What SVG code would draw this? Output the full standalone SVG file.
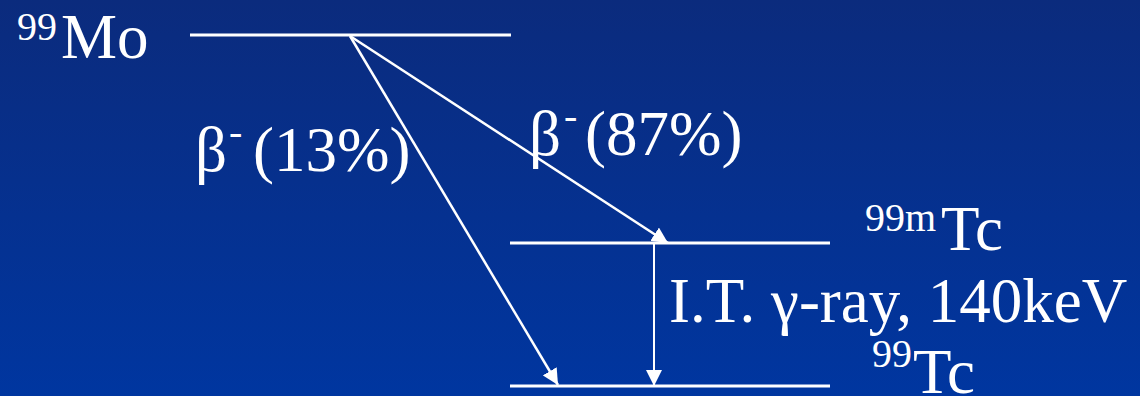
<svg xmlns="http://www.w3.org/2000/svg" width="1140" height="396" viewBox="0 0 1140 396">
<defs>
<linearGradient id="bg" x1="0" y1="0" x2="0" y2="1">
<stop offset="0" stop-color="#0b2b7d"/>
<stop offset="1" stop-color="#0036a0"/>
</linearGradient>
<marker id="ah" markerUnits="userSpaceOnUse" markerWidth="18" markerHeight="16" refX="16" refY="8" orient="auto">
<path d="M0,0 L16,8 L0,16 Z" fill="#fff"/>
</marker>
<style>
.t{font-family:"Liberation Serif","Times New Roman",serif;fill:#fff;font-size:63px}
.s{font-size:40px}
.lvl{stroke:#fff;stroke-width:3;fill:none}
.arr{stroke:#fff;stroke-width:2.5;fill:none;marker-end:url(#ah)}
</style>
</defs>
<rect width="1140" height="396" fill="url(#bg)"/>
<g id="mo99">
<line class="lvl" x1="190" y1="35" x2="511" y2="35"/>
<text class="t"><tspan class="s" x="17" y="40">99</tspan><tspan x="61" y="58">Mo</tspan></text>
</g>
<g id="tc99m">
<line class="lvl" x1="510" y1="243" x2="830" y2="243"/>
<text class="t"><tspan class="s" x="865" y="231">99m</tspan><tspan x="941" y="250">Tc</tspan></text>
</g>
<g id="tc99">
<line class="lvl" x1="510" y1="386" x2="830" y2="386"/>
<text class="t"><tspan class="s" x="872" y="367">99</tspan><tspan x="913" y="393">Tc</tspan></text>
</g>
<g id="connectors">
<line class="arr" x1="350" y1="36" x2="668" y2="243"/>
<line class="arr" x1="350" y1="36" x2="558" y2="385"/>
<line class="arr" x1="654" y1="244" x2="654" y2="386" style="stroke-width:2"/>
</g>
<g id="labels">
<text class="t"><tspan x="195" y="171">β</tspan><tspan class="s" x="229" y="145">-</tspan><tspan x="253" y="171">(13%)</tspan></text>
<text class="t"><tspan x="529" y="155">β</tspan><tspan class="s" x="564" y="129">-</tspan><tspan x="585" y="155">(87%)</tspan></text>
<text class="t" x="669" y="322">I.T. γ-ray, 140keV</text>
</g>
</svg>
